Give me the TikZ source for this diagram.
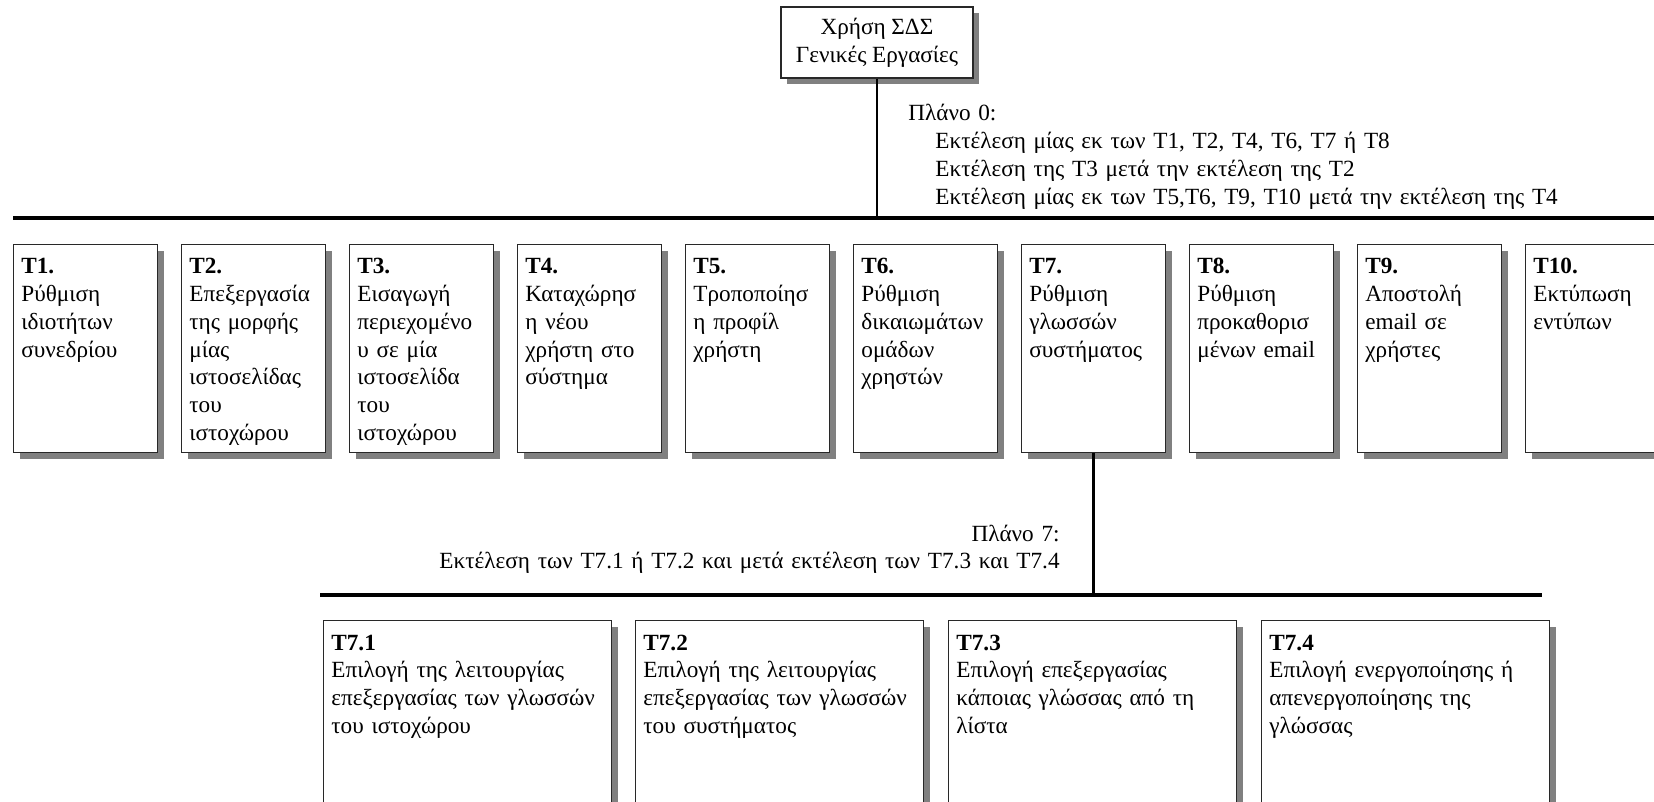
\documentclass[tikz,border=0pt]{standalone}
\usepackage{fontspec}
\setmainfont{Liberation Serif}
\usetikzlibrary{shadows}
\definecolor{shadowgray}{RGB}{128,128,128}
\definecolor{boxline}{RGB}{40,40,40}
\tikzset{
  taskbox/.style={draw=boxline, line width=0.55pt, fill=white, rectangle, inner sep=0pt,
    drop shadow={shadow xshift=3pt, shadow yshift=-3pt, opacity=1, fill=shadowgray}},
  lvlone/.style={taskbox, anchor=north west, minimum width=72pt, minimum height=104pt},
  lvltwo/.style={taskbox, anchor=north west, minimum width=144pt, minimum height=112pt},
  txt/.style={inner sep=0pt, font=\fontsize{11.6pt}{13.85pt}\selectfont},
  boxtext/.style={txt, anchor=base west, align=left, text width=#1},
  boxtext/.default=66pt,
  bar/.style={line width=1.7pt},
  stem/.style={line width=1.4pt},
}
\begin{document}
\begin{tikzpicture}[x=0.5pt,y=-0.5pt]
\clip (0,0) rectangle (1654,802);
\fill[white] (0,0) rectangle (1654,802);

% top node
\node[taskbox, minimum width=96pt, minimum height=35.5pt, align=center, txt] (top) at (877,42.5)
  {Χρήση ΣΔΣ\\Γενικές Εργασίες};

% bars
\coordinate (h1L) at (13,218);
\coordinate (h1R) at (1654,218);
\coordinate (h2L) at (320,595);
\coordinate (h2R) at (1542,595);
\draw[bar] (h1L) -- (h1R);
\draw[bar] (h2L) -- (h2R);
\draw[stem] (top.south) -- (top.south |- h1L);

% plan 0
\node[boxtext=360pt] (plan0) at (908,121)
  {Πλάνο 0:\\
   \hspace*{13.5pt}Εκτέλεση μίας εκ των T1, T2, T4, T6, T7 ή T8\\
   \hspace*{13.5pt}Εκτέλεση της T3 μετά την εκτέλεση της T2\\
   \hspace*{13.5pt}Εκτέλεση μίας εκ των T5,T6, T9, T10 μετά την εκτέλεση της T4};

% level 1 boxes
\node[lvlone] (t1) at (13,244) {};
\node[lvlone] (t2) at (181,244) {};
\node[lvlone] (t3) at (349,244) {};
\node[lvlone] (t4) at (517,244) {};
\node[lvlone] (t5) at (685,244) {};
\node[lvlone] (t6) at (853,244) {};
\node[lvlone] (t7) at (1021,244) {};
\node[lvlone] (t8) at (1189,244) {};
\node[lvlone] (t9) at (1357,244) {};
\node[lvlone] (t10) at (1525,244) {};

\node[boxtext] (t1x) at ([xshift=4pt,yshift=-15pt]t1.north west) {\textbf{T1.}\\Ρύθμιση\\ιδιοτήτων\\συνεδρίου};
\node[boxtext] (t2x) at ([xshift=4pt,yshift=-15pt]t2.north west) {\textbf{T2.}\\Επεξεργασία\\της μορφής\\μίας\\ιστοσελίδας\\του\\ιστοχώρου};
\node[boxtext] (t3x) at ([xshift=4pt,yshift=-15pt]t3.north west) {\textbf{T3.}\\Εισαγωγή\\περιεχομένο\\υ σε μία\\ιστοσελίδα\\του\\ιστοχώρου};
\node[boxtext] (t4x) at ([xshift=4pt,yshift=-15pt]t4.north west) {\textbf{T4.}\\Καταχώρησ\\η νέου\\χρήστη στο\\σύστημα};
\node[boxtext] (t5x) at ([xshift=4pt,yshift=-15pt]t5.north west) {\textbf{T5.}\\Τροποποίησ\\η προφίλ\\χρήστη};
\node[boxtext] (t6x) at ([xshift=4pt,yshift=-15pt]t6.north west) {\textbf{T6.}\\Ρύθμιση\\δικαιωμάτων\\ομάδων\\χρηστών};
\node[boxtext] (t7x) at ([xshift=4pt,yshift=-15pt]t7.north west) {\textbf{T7.}\\Ρύθμιση\\γλωσσών\\συστήματος};
\node[boxtext] (t8x) at ([xshift=4pt,yshift=-15pt]t8.north west) {\textbf{T8.}\\Ρύθμιση\\προκαθορισ\\μένων email};
\node[boxtext] (t9x) at ([xshift=4pt,yshift=-15pt]t9.north west) {\textbf{T9.}\\Αποστολή\\email σε\\χρήστες};
\node[boxtext] (t10x) at ([xshift=4pt,yshift=-15pt]t10.north west) {\textbf{T10.}\\Εκτύπωση\\εντύπων};

% stem from T7
\draw[stem] (t7.south) -- (t7.south |- h2L);

% plan 7
\node[txt, anchor=base east, align=right, text width=330pt] (plan7) at (1060,541)
  {Πλάνο 7:\\Εκτέλεση των T7.1 ή T7.2 και μετά εκτέλεση των T7.3 και T7.4};

% level 2 boxes
\node[lvltwo] (t71) at (323,620) {};
\node[lvltwo] (t72) at (635,620) {};
\node[lvltwo] (t73) at (948,620) {};
\node[lvltwo] (t74) at (1261,620) {};

\node[boxtext=138pt] (t71x) at ([xshift=4pt,yshift=-15pt]t71.north west) {\textbf{T7.1}\\Επιλογή της λειτουργίας\\επεξεργασίας των γλωσσών\\του ιστοχώρου};
\node[boxtext=138pt] (t72x) at ([xshift=4pt,yshift=-15pt]t72.north west) {\textbf{T7.2}\\Επιλογή της λειτουργίας\\επεξεργασίας των γλωσσών\\του συστήματος};
\node[boxtext=138pt] (t73x) at ([xshift=4pt,yshift=-15pt]t73.north west) {\textbf{T7.3}\\Επιλογή επεξεργασίας\\κάποιας γλώσσας από τη\\λίστα};
\node[boxtext=138pt] (t74x) at ([xshift=4pt,yshift=-15pt]t74.north west) {\textbf{T7.4}\\Επιλογή ενεργοποίησης ή\\απενεργοποίησης της\\γλώσσας};
\end{tikzpicture}
\end{document}
